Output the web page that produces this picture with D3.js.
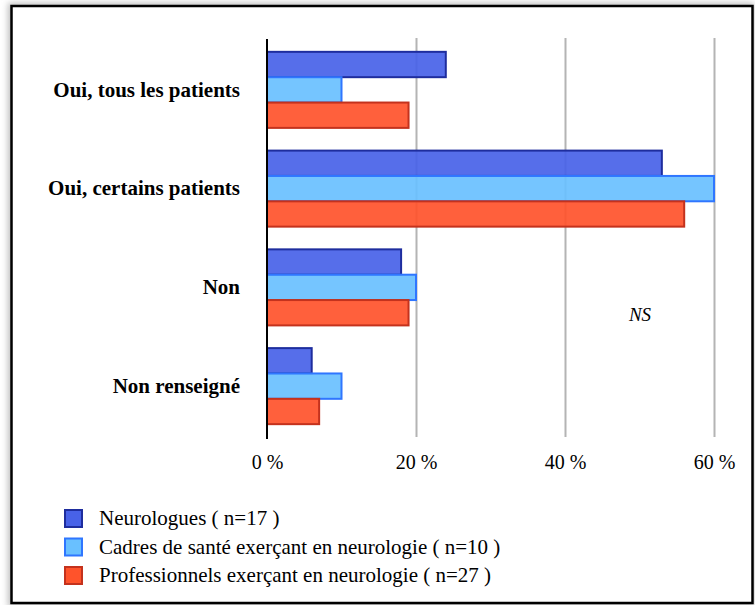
<!DOCTYPE html>
<html>
<head>
<meta charset="utf-8">
<script src="https://cdn.jsdelivr.net/npm/d3@7"></script>
<style>
    body { margin: 0; background: #fff; }
</style>
</head>
<body>
<script>
// Data
const categories = ["Oui, tous les patients", "Oui, certains patients", "Non", "Non renseigné"];
const series = ["Neurologues ( n=17 )", "Cadres de santé exerçant en neurologie ( n=10 )", "Professionnels exerçant en neurologie ( n=27 )"];
const neurologues = [24, 53, 18, 6];
const cadres = [10, 60, 20, 10];
const professionnels = [19, 56, 19, 7];
const xTicks = [0, 20, 40, 60];

const values = [neurologues, cadres, professionnels];
const fills = ["#4862e8", "#69c0ff", "#ff532b"];
const strokes = ["#1e2d9e", "#2f76ff", "#c4321d"];
const serif = "'Liberation Serif', 'DejaVu Serif', serif";

const w = 755, h = 605;
const svg = d3.select("body").append("svg")
    .attr("width", w)
    .attr("height", h);

// Frame with a soft shadow
const defs = svg.append("defs");
const blur = defs.append("filter").attr("id", "shadow")
    .attr("x", "-5%").attr("y", "-5%").attr("width", "110%").attr("height", "110%");
blur.append("feGaussianBlur").attr("stdDeviation", 3);

svg.append("rect")
    .attr("x", 8).attr("y", 3).attr("width", 746).attr("height", 604)
    .attr("fill", "#bdbdbd")
    .attr("filter", "url(#shadow)");
svg.append("rect")
    .attr("x", 11.5).attr("y", 6).attr("width", 741).attr("height", 597)
    .attr("fill", "#fff")
    .attr("stroke", "#000")
    .attr("stroke-width", 2.5);

// Scales
const x_scale = d3.scaleLinear().domain([0, 60]).range([267, 714]);
const y_scale = d3.scaleBand().domain(categories).range([39, 437])
    .paddingInner(0.23).paddingOuter(0.13);
const s_scale = d3.scaleBand().domain(d3.range(series.length)).range([0, y_scale.bandwidth()]);

// Gridlines
const grid = d3.axisBottom(x_scale).tickValues(xTicks.slice(1)).tickSize(-(437 - 38)).tickFormat("");
svg.append("g")
    .attr("transform", "translate(0, 437)")
    .call(grid)
    .call(g => g.select(".domain").remove())
    .call(g => g.selectAll("line").attr("stroke", "#b4b4b4").attr("stroke-width", 2));

// Bars
const groups = svg.selectAll(".cat")
    .data(categories)
    .enter()
    .append("g")
    .attr("class", "cat")
    .attr("transform", d => "translate(0, " + y_scale(d) + ")");

groups.selectAll("rect")
    .data((d, i) => values.map((v, s) => ({ s: s, v: v[i] })))
    .enter()
    .append("rect")
    .attr("x", x_scale(0))
    .attr("y", d => s_scale(d.s))
    .attr("width", d => x_scale(d.v) - x_scale(0))
    .attr("height", s_scale.bandwidth())
    .attr("fill", d => fills[d.s])
    .attr("fill-opacity", 0.92)
    .attr("stroke", d => strokes[d.s])
    .attr("stroke-width", 2);

// Axis line
svg.append("line")
    .attr("x1", x_scale(0)).attr("x2", x_scale(0))
    .attr("y1", 39).attr("y2", 439)
    .attr("stroke", "#000")
    .attr("stroke-width", 2);

// Tick labels
const x_axis = d3.axisBottom(x_scale).tickValues(xTicks).tickSize(0).tickPadding(0)
    .tickFormat(d => d + " %");
svg.append("g")
    .attr("transform", "translate(0, 455)")
    .call(x_axis)
    .call(g => g.select(".domain").remove())
    .call(g => g.selectAll("text")
        .style("font-family", serif)
        .style("font-size", "20px")
        .attr("fill", "#000"));

// Category labels
const y_axis = d3.axisLeft(y_scale).tickSize(0).tickPadding(0);
svg.append("g")
    .attr("transform", "translate(240, 0)")
    .call(y_axis)
    .call(g => g.select(".domain").remove())
    .call(g => g.selectAll("text")
        .style("font-family", serif)
        .style("font-size", "21px")
        .style("font-weight", "bold")
        .attr("fill", "#000"));

// NS note
svg.append("text")
    .attr("x", 640).attr("y", 321)
    .attr("text-anchor", "middle")
    .style("font-family", serif)
    .style("font-style", "italic")
    .style("font-size", "19px")
    .text("NS");

// Legend
const legend = svg.selectAll(".legend")
    .data(series)
    .enter()
    .append("g")
    .attr("class", "legend")
    .attr("transform", (d, i) => "translate(65, " + (510 + i * 28.5) + ")");

legend.append("rect")
    .attr("width", 17).attr("height", 17)
    .attr("fill", (d, i) => fills[i])
    .attr("stroke", (d, i) => strokes[i])
    .attr("stroke-width", 2);

legend.append("text")
    .attr("x", 34).attr("y", 15)
    .style("font-family", serif)
    .style("font-size", "21px")
    .text(d => d);
</script>
</body>
</html>
